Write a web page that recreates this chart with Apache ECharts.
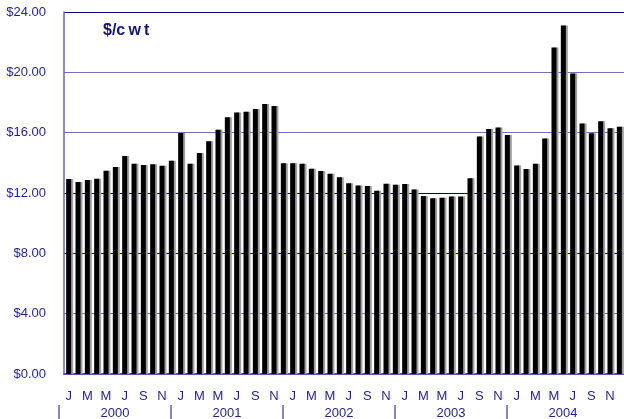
<!DOCTYPE html>
<html>
<head>
<meta charset="utf-8">
<script src="https://cdn.jsdelivr.net/npm/echarts@6/dist/echarts.min.js"></script>
<style>
  html, body { margin: 0; padding: 0; background: #fff; }
  #chart { width: 624px; height: 419px; }
</style>
</head>
<body>
<div id="chart"></div>
<script>
const years = ['2000', '2001', '2002', '2003', '2004']
const monthLetters = ['J', 'F', 'M', 'A', 'M', 'J', 'J', 'A', 'S', 'O', 'N', 'D']

const values2000 = [12.93, 12.73, 12.86, 12.95, 13.48, 13.72, 14.45, 13.94, 13.86, 13.90, 13.81, 14.14]
const values2001 = [15.98, 13.94, 14.65, 15.43, 16.20, 17.02, 17.33, 17.39, 17.57, 17.90, 17.77, 13.97]
const values2002 = [13.97, 13.94, 13.61, 13.46, 13.28, 13.04, 12.64, 12.49, 12.47, 12.15, 12.62, 12.55]
const values2003 = [12.60, 12.24, 11.80, 11.65, 11.69, 11.76, 11.76, 12.97, 15.74, 16.24, 16.35, 15.85]
const values2004 = [13.83, 13.59, 13.94, 15.62, 21.64, 23.10, 19.93, 16.60, 15.96, 16.75, 16.29, 16.40]

// one category per month
const months = []
years.forEach(y => monthLetters.forEach(m => months.push(m)))
const prices = [].concat(values2000, values2001, values2002, values2003, values2004)

const navy = '#1f1f8f'
const myChart = echarts.init(document.getElementById('chart'))

myChart.setOption({
    animation: false,
    title: {
        text: '$/c\u2009w\u2009t',
        left: 103,
        top: 23,
        padding: 0,
        textStyle: { color: '#14147a', fontSize: 16, fontWeight: 'bold', fontFamily: 'Liberation Sans' }
    },
    grid: [
        { left: 64, right: 0, top: 12, height: 362, outerBoundsMode: 'none' },
        // year strip, shifted a little left like the original
        { left: 59, width: 672, top: 404, height: 1, outerBoundsMode: 'none' }
    ],
    xAxis: [
        {
            type: 'category',
            gridIndex: 0,
            data: months,
            axisLine: { lineStyle: { color: '#5555aa', width: 2 } },
            axisTick: { alignWithLabel: true, interval: 0, length: 6, lineStyle: { color: '#444' } },
            axisLabel: { interval: 1, margin: 16, color: navy, fontSize: 13, fontFamily: 'Liberation Sans' }
        },
        {
            type: 'category',
            gridIndex: 1,
            data: years.concat(['']),
            axisLine: { show: true, lineStyle: { color: 'rgba(0,0,0,0)' } },
            axisTick: {
                show: true,
                length: 14,
                interval: (index) => index < years.length,
                lineStyle: { color: '#6060b0', width: 1.5 }
            },
            axisLabel: { interval: 0, margin: 2, color: navy, fontSize: 13, fontFamily: 'Liberation Sans' }
        }
    ],
    yAxis: [
        {
            type: 'value',
            gridIndex: 0,
            min: 0,
            max: 24,
            interval: 4,
            axisLine: { show: true, lineStyle: { color: '#6666b3', width: 1.5 } },
            axisTick: { show: false },
            axisLabel: {
                margin: 18,
                color: navy,
                fontSize: 13,
                fontFamily: 'Liberation Sans',
                formatter: v => '$' + v.toFixed(2)
            },
            splitLine: {
                lineStyle: {
                    color: ['#5555aa', '#7070b8', '#000080', '#000080', '#7070b8', '#7070b8', '#000080'],
                    width: 1
                }
            }
        },
        { type: 'value', gridIndex: 1, show: false }
    ],
    series: [
        {
            name: 'Price',
            type: 'bar',
            xAxisIndex: 0,
            yAxisIndex: 0,
            data: prices,
            barWidth: 5,
            itemStyle: {
                color: '#000',
                shadowColor: '#a0a0a0',
                shadowOffsetX: 2,
                shadowBlur: 0
            }
        }
    ]
})
</script>
</body>
</html>
